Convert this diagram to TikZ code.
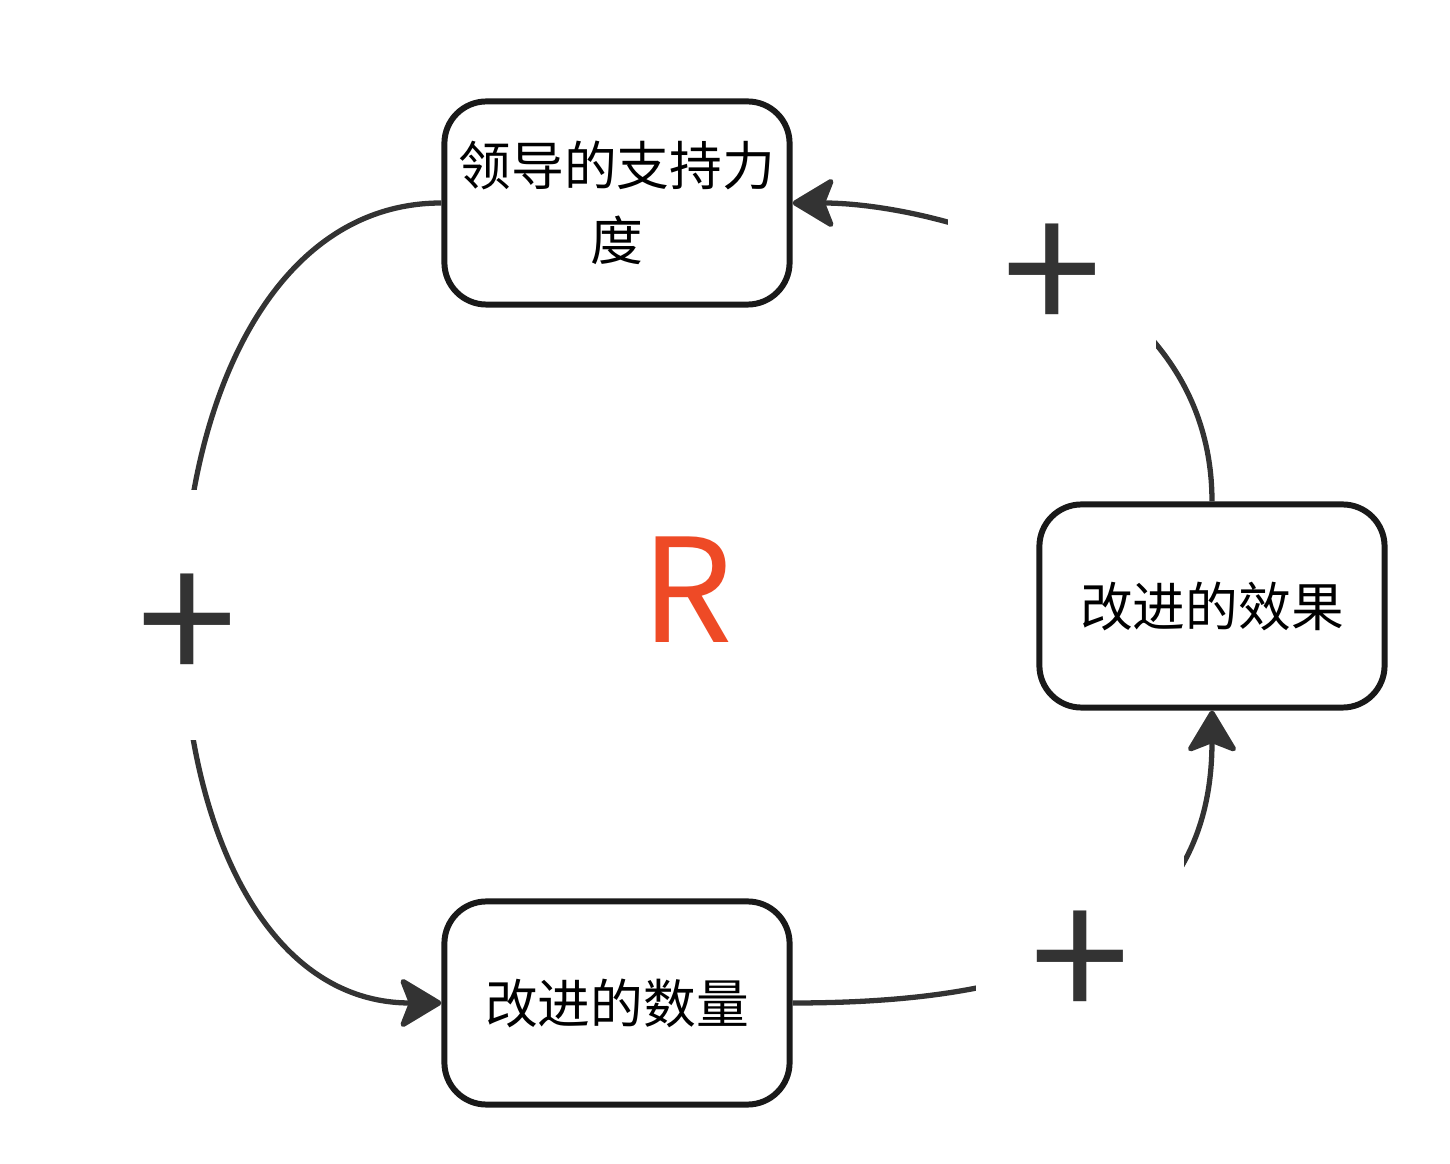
\documentclass[tikz,border=0pt]{standalone}
\usepackage{fontspec}
\newfontfamily\cjk{Noto Sans CJK SC}
\usetikzlibrary{arrows.meta}
\definecolor{loopred}{RGB}{238,74,38}
\definecolor{linegray}{RGB}{51,51,51}

\begin{document}
\begin{tikzpicture}[x=0.01cm,y=-0.01cm,
	box/.style={draw=black!90,line width=1.7pt,rounded corners=0.42cm,minimum width=3.45cm,minimum height=2.03cm,align=center,font=\cjk\fontsize{15}{21.5}\selectfont},
	sign/.style={fill=white,minimum width=2.08cm,minimum height=2.5cm,inner sep=0pt,text=linegray,font=\cjk\fontsize{51}{51}\selectfont},
	link/.style={draw=linegray,line width=1.5pt,-{Stealth[length=13pt,width=15.5pt,inset=3pt,round,fill=linegray]}}]
	\useasboundingbox (0,0) rectangle (1450,1164);
	% the three variables of the loop
	\node[box] at (617,203) (lead) {领导的支持力\\度};
	\node[box] at (1212,606) (effect) {改进的效果};
	\node[box] at (617,1003) (count) {改进的数量};
	\node[text=loopred,font=\cjk\fontsize{41}{41}\selectfont] at (687,590) (loop) {R};
	% links with their polarity
	\draw[link] (lead.west) .. controls (102,203) and (102,1003) .. (count.west) node[sign,pos=0.51] (plusL) {\raisebox{-0.15cm}[\height][\depth]{+}};
	\draw[link] (count.east) .. controls (1000,1003) and (1212,963) .. (effect.south) node[sign,pos=0.5] (plusB) {\raisebox{-0.15cm}[\height][\depth]{+}};
	\draw[link] (effect.north) .. controls (1212,268) and (925,203) .. (lead.east) node[sign,pos=0.5] (plusT) {\raisebox{-0.15cm}[\height][\depth]{+}};
\end{tikzpicture}
\end{document}
